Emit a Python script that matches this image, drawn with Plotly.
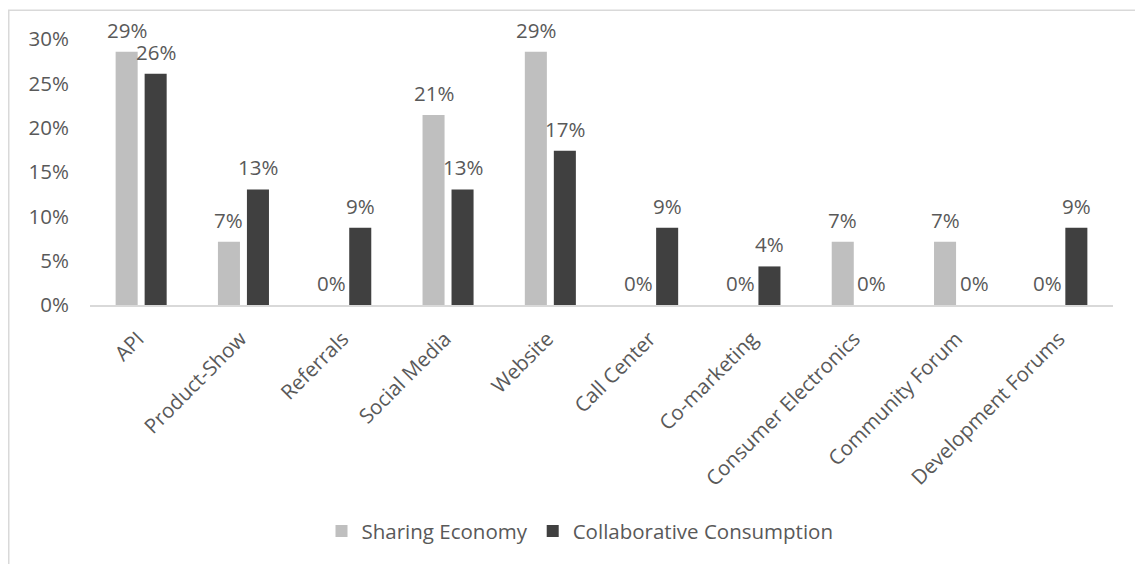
import plotly.graph_objects as go

categories = ["API", "Product-Show", "Referrals", "Social Media", "Website",
              "Call Center", "Co-marketing", "Consumer Electronics",
              "Community Forum", "Development Forums"]
sharing_economy = [0.2857, 0.0714, 0.0, 0.2143, 0.2857, 0.0, 0.0, 0.0714, 0.0714, 0.0]
collaborative_consumption = [0.2609, 0.1304, 0.0870, 0.1304, 0.1739, 0.0870, 0.0435, 0.0, 0.0, 0.0870]
series_names = ["Sharing Economy", "Collaborative Consumption"]
y_ticks = [0, 0.05, 0.10, 0.15, 0.20, 0.25, 0.30]

W, H = 1135, 556
ML, MR, MT, MB = 82, 30, 31, 257
PW = W - ML - MR
PH = H - MT - MB
BARGAP = 0.433
GROUPGAP = 0.24
TEXT = "#595959"
FONT = "Open Sans"
FS = 20.5
COLORS = ["#bfbfbf", "#404040"]


def px_x(x):
    return (x - ML) / PW


def px_y(y):
    return (H - MB - y) / PH


fig = go.Figure()
for name, vals, col in zip(series_names, [sharing_economy, collaborative_consumption], COLORS):
    fig.add_trace(go.Bar(x=categories, y=vals, name=name, marker=dict(color=col, line=dict(width=0))))

# data labels
cat_w = PW / len(categories)
slot = cat_w * (1 - BARGAP) / 2
for vals, sh in [(sharing_economy, -slot / 2), (collaborative_consumption, slot / 2)]:
    for c, v in zip(categories, vals):
        fig.add_annotation(x=c, y=v, xref="x", yref="y", text=f"{round(v*100):d}%",
                           showarrow=False, xshift=sh, yshift=22, yanchor="middle",
                           font=dict(family=FONT, size=FS, color=TEXT))

# outer chart border
fig.add_shape(type="rect", xref="paper", yref="paper",
              x0=px_x(0.75), x1=px_x(1133.5), y0=px_y(H + 5), y1=px_y(2),
              line=dict(color="#d9d9d9", width=1.5), fillcolor="rgba(0,0,0,0)", layer="below")

fig.update_layout(
    width=W, height=H,
    margin=dict(l=ML, r=MR, t=MT, b=MB),
    paper_bgcolor="white", plot_bgcolor="white",
    barmode="group", bargap=BARGAP, bargroupgap=GROUPGAP,
    font=dict(family=FONT, size=FS, color=TEXT),
    legend=dict(orientation="h", x=px_x(572), xanchor="center",
                y=px_y(527), yanchor="middle",
                font=dict(family=FONT, size=FS, color=TEXT), itemwidth=30,
                traceorder="normal"),
    showlegend=True,
)
fig.update_xaxes(showline=True, linecolor="#d9d9d9", linewidth=1.5, tickangle=-45,
                 showgrid=False, ticks="", ticklabelshift=-3, ticklabelstandoff=12,
                 tickfont=dict(family=FONT, size=FS, color=TEXT))
fig.update_yaxes(range=[0, 0.30], tickvals=y_ticks, tickformat=".0%", showgrid=False,
                 zeroline=False, showline=False, ticks="", ticklabelstandoff=20,
                 tickfont=dict(family=FONT, size=FS, color=TEXT))

fig.write_html("out.html")
